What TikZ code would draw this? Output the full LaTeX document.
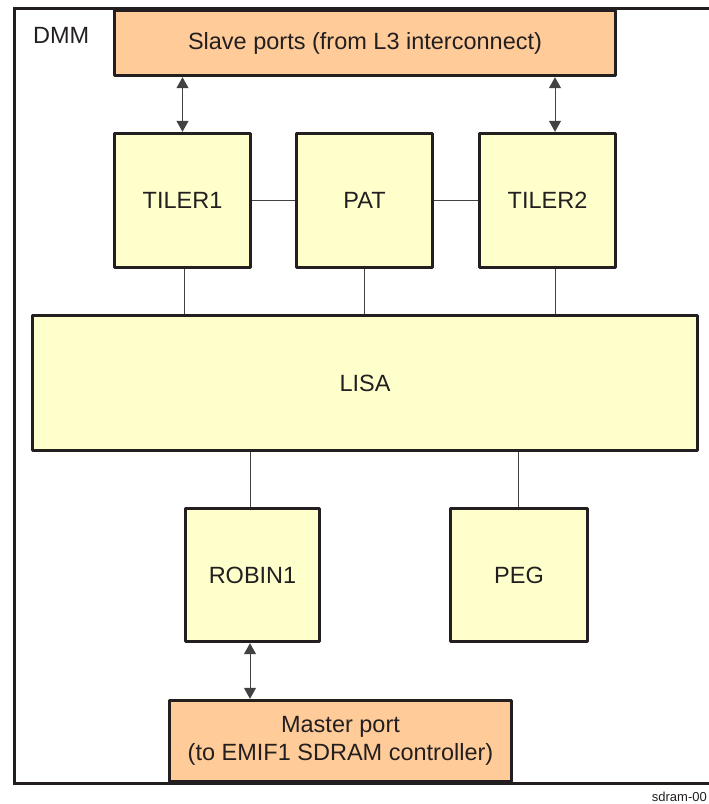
\documentclass[tikz,border=0pt]{standalone}
\usepackage{fontspec}
\setmainfont{Liberation Sans}
\usepackage{xcolor}
\usetikzlibrary{arrows.meta,positioning,calc}
\definecolor{edgegray}{HTML}{231F20}
\definecolor{blkyellow}{HTML}{FFFFCC}
\definecolor{portorange}{HTML}{FFCC99}

\begin{document}
\begin{tikzpicture}[x=1pt, y=-1pt,
  blk/.style={draw=edgegray, fill=blkyellow, line width=3.4pt, line join=round, inner sep=0pt,
              minimum width=136pt, minimum height=134pt, text=edgegray,
              font=\fontsize{23.5}{28}\selectfont},
  port/.style={blk, fill=portorange, align=center},
  frame/.style={draw=edgegray, line width=3pt},
  link/.style={draw=edgegray!85, line width=1pt},
  arr/.style={link, {Triangle[length=11pt,width=12pt]}-{Triangle[length=11pt,width=12pt]}},
  lab/.style={text=edgegray, inner sep=0pt}]
\useasboundingbox (0,0) rectangle (709,804);
% DMM frame (open to the right)
\draw[frame] (709,8) -| (14,783) -- (709,783);
\node[lab, anchor=base west, font=\fontsize{23.5}{28}\selectfont] (dmm) at (33,43) {DMM};
% ports
\node[port, minimum width=501pt, minimum height=65pt] (slave)  at (365,43)    {Slave ports (from L3 interconnect)};
\node[port, minimum width=342pt, minimum height=81pt] (master) at (340.5,741) {Master port\\(to EMIF1 SDRAM controller)};
% top row
\node[blk] (tiler1) at (182.5,200.5) {TILER1};
\node[blk] (pat)    at (364.5,200.5) {PAT};
\node[blk] (tiler2) at (547.5,200.5) {TILER2};
\coordinate (t2x) at (555,200.5);
% LISA
\node[blk, minimum width=665pt, minimum height=135pt] (lisa) at (365,383) {LISA};
% bottom row
\node[blk, minimum width=134pt, minimum height=133pt] (robin) at (252.5,575) {ROBIN1};
\node[blk, minimum width=137pt, minimum height=133pt] (peg)   at (519,575)   {PEG};
\node[lab, anchor=base east, font=\fontsize{13}{16}\selectfont] (figid) at (707,801) {sdram-00};
% connectors
\draw[arr] (tiler1.north |- slave.south) -- (tiler1.north);
\draw[arr] (t2x |- slave.south) -- (t2x |- tiler2.north);
\draw[link] (tiler1.east) -- (pat.west); \draw[link] (pat.east) -- (tiler2.west);
\draw[link] ([xshift=1.5pt]tiler1.south) -- ([xshift=1.5pt]tiler1.south |- lisa.north);
\draw[link] (pat.south) -- (pat.south |- lisa.north);
\draw[link] (t2x |- tiler2.south) -- (t2x |- lisa.north);
\draw[link] ([xshift=-2.5pt]robin.north |- lisa.south) -- ([xshift=-2.5pt]robin.north);
\draw[link] ([xshift=-1pt]peg.north |- lisa.south) -- ([xshift=-1pt]peg.north);
\draw[arr] ([xshift=-2.5pt]robin.south) -- ([xshift=-2.5pt]robin.south |- master.north);
\end{tikzpicture}
\end{document}
